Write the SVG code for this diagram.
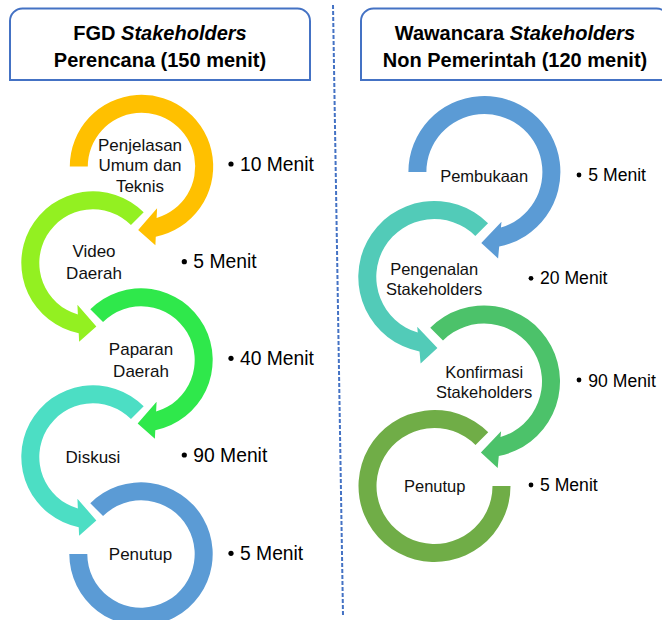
<svg xmlns="http://www.w3.org/2000/svg" width="662" height="620" viewBox="0 0 662 620">
<style>
.box{fill:#fff;stroke:#4472C4;stroke-width:2}
.ttl{font-family:"Liberation Sans",Arial,sans-serif;font-weight:bold;font-size:20px;text-anchor:middle;fill:#000}
.lbl{font-family:"Liberation Sans",Arial,sans-serif;font-size:17px;text-anchor:middle;fill:#111}
.lblr{font-family:"Liberation Sans",Arial,sans-serif;font-size:16.5px;text-anchor:middle;fill:#111}
.min{font-family:"Liberation Sans",Arial,sans-serif;font-size:19.3px;fill:#000}
.minr{font-family:"Liberation Sans",Arial,sans-serif;font-size:17.6px;fill:#000}
.div{stroke:#4472C4;stroke-width:2;stroke-dasharray:4 2;fill:none}
</style>
<g id="header-left">
<path class="box" d="M10,80 V21 A12.5,12.5 0 0 1 22.5,8.5 H297.5 A12.5,12.5 0 0 1 310,21 V80 Z"/>
<text class="ttl" x="160" y="39.5">FGD <tspan font-style="italic">Stakeholders</tspan></text>
<text class="ttl" x="160" y="66.5">Perencana (150 menit)</text>
</g>
<g id="header-right">
<path class="box" d="M361,80 V21 A12.5,12.5 0 0 1 373.5,8.5 H656.5 A12.5,12.5 0 0 1 669,21 V80 Z"/>
<text class="ttl" x="515" y="39.5">Wawancara <tspan font-style="italic">Stakeholders</tspan></text>
<text class="ttl" x="515" y="66.5">Non Pemerintah (120 menit)</text>
</g>
<g id="connectors">
<line class="div" x1="333" y1="5" x2="343" y2="615"/>
</g>
<g id="node-penjelasan">
<path fill="#FFC000" d="M69.8,166.5 A71.7,71.7 0 1 1 155.78,236.77 L155.39,245.28 L138.17,230.01 L157.08,208.18 L156.63,218.03 A53.7,53.7 0 1 0 87.8,166.5 Z"/>
<text class="lbl" x="140" y="150.7">Penjelasan</text>
<text class="lbl" x="140" y="171">Umum dan</text>
<text class="lbl" x="140" y="191.5">Teknis</text>
<circle cx="231" cy="164" r="2.6"/>
<text class="min" x="240" y="170.8">10 Menit</text>
</g>
<g id="node-video">
<path fill="#93F021" d="M143.7,212.3 A71.7,71.7 0 1 0 78.72,333.27 L79.11,341.78 L96.33,326.51 L77.42,304.68 L77.87,314.53 A53.7,53.7 0 1 1 130.97,225.03 Z"/>
<text class="lbl" x="94" y="256.7">Video</text>
<text class="lbl" x="94" y="279.3">Daerah</text>
<circle cx="184.3" cy="261.7" r="2.6"/>
<text class="min" x="193.3" y="268.4">5 Menit</text>
</g>
<g id="node-paparan">
<path fill="#2FE84B" d="M90.3,309.3 A71.7,71.7 0 1 1 155.28,430.27 L154.89,438.78 L137.67,423.51 L156.58,401.68 L156.13,411.53 A53.7,53.7 0 1 0 103.03,322.03 Z"/>
<text class="lbl" x="141" y="355">Paparan</text>
<text class="lbl" x="141" y="376.7">Daerah</text>
<circle cx="231" cy="358.3" r="2.6"/>
<text class="min" x="240" y="365">40 Menit</text>
</g>
<g id="node-diskusi">
<path fill="#4CDEC4" d="M143.7,406.3 A71.7,71.7 0 1 0 78.72,527.27 L79.11,535.78 L96.33,520.51 L77.42,498.68 L77.87,508.53 A53.7,53.7 0 1 1 130.97,419.03 Z"/>
<text class="lbl" x="93" y="462.7">Diskusi</text>
<circle cx="184.3" cy="455" r="2.6"/>
<text class="min" x="193.3" y="461.8">90 Menit</text>
</g>
<g id="node-penutup-left">
<path fill="#5B9BD5" d="M90.3,503.3 A71.7,71.7 0 1 1 69.3,554 L87.3,554 A53.7,53.7 0 1 0 103.03,516.03 Z"/>
<text class="lbl" x="140.5" y="560">Penutup</text>
<circle cx="231" cy="553.3" r="2.6"/>
<text class="min" x="240" y="560.1">5 Menit</text>
</g>
<g id="node-pembukaan">
<path fill="#5B9BD5" d="M408.4,172 A76,76 0 1 1 499.19,246.54 L498.09,258.42 L481.3,242.93 L501.49,221.64 L500.94,227.59 A58,58 0 1 0 426.4,172 Z"/>
<text class="lblr" x="484.2" y="181.7">Pembukaan</text>
<circle cx="579" cy="175" r="2.4"/>
<text class="minr" x="588.3" y="181">5 Menit</text>
</g>
<g id="node-pengenalan">
<path fill="#52CBB8" d="M488.04,223.26 A76,76 0 1 0 419.51,351.54 L420.61,363.42 L437.4,347.93 L417.21,326.64 L417.76,332.59 A58,58 0 1 1 475.31,235.99 Z"/>
<text class="lblr" x="434.2" y="274.5">Pengenalan</text>
<text class="lblr" x="434.2" y="294.5">Stakeholders</text>
<circle cx="531" cy="278.3" r="2.4"/>
<text class="minr" x="540" y="284.4">20 Menit</text>
</g>
<g id="node-konfirmasi">
<path fill="#4CC26A" d="M430.26,327.76 A76,76 0 1 1 498.79,456.04 L497.69,467.92 L480.9,452.43 L501.09,431.14 L500.54,437.09 A58,58 0 1 0 442.99,340.49 Z"/>
<text class="lblr" x="484.2" y="378.3">Konfirmasi</text>
<text class="lblr" x="484.2" y="398.3">Stakeholders</text>
<circle cx="579" cy="380" r="2.4"/>
<text class="minr" x="588.3" y="386.7">90 Menit</text>
</g>
<g id="node-penutup-right">
<path fill="#70AD47" d="M488.24,432.26 A76,76 0 1 0 510.5,486 L492.5,486 A58,58 0 1 1 475.51,444.99 Z"/>
<text class="lblr" x="434.7" y="491.7">Penutup</text>
<circle cx="531" cy="485" r="2.4"/>
<text class="minr" x="540" y="490.8">5 Menit</text>
</g>
</svg>
